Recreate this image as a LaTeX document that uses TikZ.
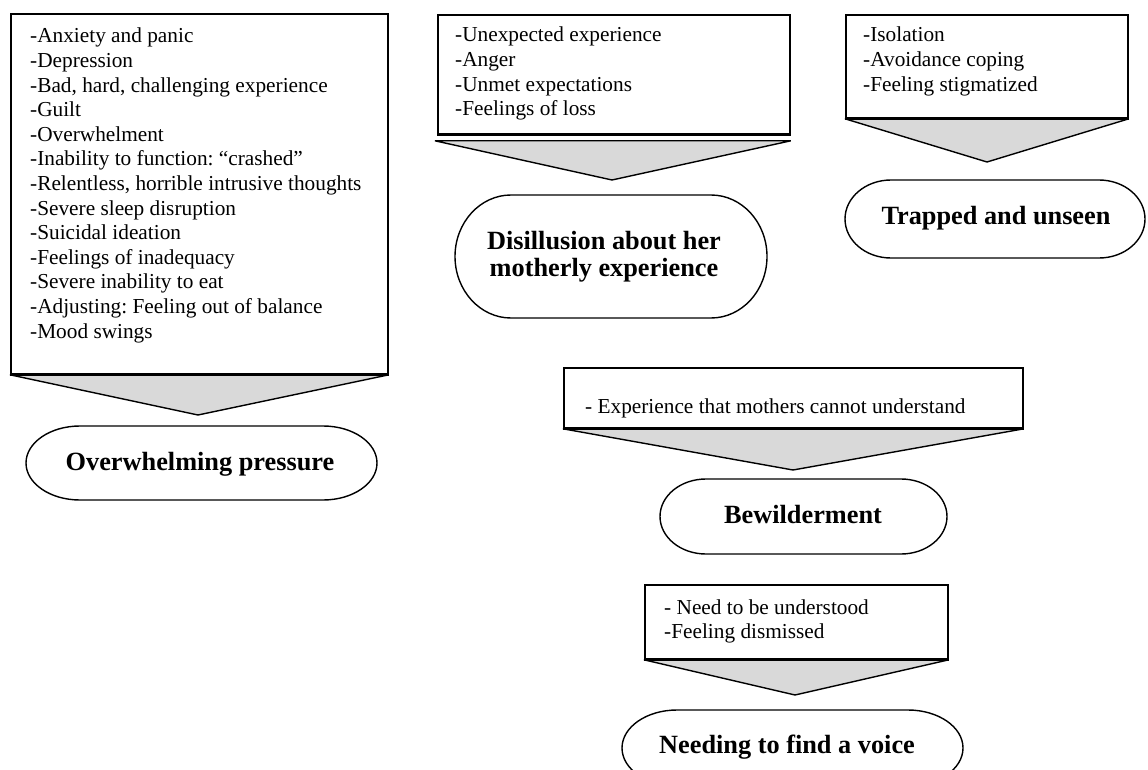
\documentclass[tikz,border=0pt]{standalone}
\usepackage{fontspec}
\setmainfont{Liberation Serif}
\usetikzlibrary{calc}
\frenchspacing

\definecolor{chevgray}{HTML}{D9D9D9}

\tikzset{
  listbox/.style={draw=black, line width=1.8pt, fill=white, inner sep=0pt, anchor=north west},
  chevron/.style={draw=black, line width=1.4pt, fill=chevgray, line join=bevel},
  termline/.style={draw=black, line width=1.4pt, fill=white},
  listtext/.style={anchor=base west, inner sep=0pt, align=left,
    font=\fontsize{21.3}{24.6}\selectfont},
  termtext/.style={anchor=base, inner sep=0pt, align=center,
    font=\fontsize{26.3}{27}\selectfont\bfseries},
}

% flowchart terminator outline: x1, y1 (top), x2, y2 (bottom), end radius x, end radius y
\newcommand\termshape[6]{%
  \path[termline] ({#1+#5},#2) -- ({#3-#5},#2)
    arc[start angle=90, end angle=-90, x radius=#5pt, y radius=#6pt]
    -- ({#1+#5},#4)
    arc[start angle=270, end angle=90, x radius=#5pt, y radius=#6pt]
    -- cycle;}

\newcommand\itemlist[1]{\begin{tabular}[t]{@{}l@{}}#1\end{tabular}}

\begin{document}
\begin{tikzpicture}[x=1pt, y=-1pt]
\useasboundingbox (0,0) rectangle (1148,770);

% ---------- boxes ----------
\node[listbox, minimum width=377pt, minimum height=360pt] (b1) at (10,13) {};
\node[listbox, minimum width=352pt, minimum height=119pt] (b2) at (437,14) {};
\node[listbox, minimum width=282pt, minimum height=103pt] (b3) at (845,14) {};
\node[listbox, minimum width=459pt, minimum height=60pt]  (b4) at (563,367) {};
\node[listbox, minimum width=303pt, minimum height=74pt]  (b5) at (644,584) {};

% ---------- chevron tips ----------
\coordinate (tip1) at (198,415);
\coordinate (tip2) at (612,180);
\coordinate (tip3) at (987,162);
\coordinate (tip4) at (793,470);
\coordinate (tip5) at (795,695);

% ---------- chevrons ----------
\path[chevron] (b1.south west) -- (b1.south east) -- (tip1) -- cycle;
\path[chevron] ([xshift=-2pt,yshift=-6pt]b2.south west) -- ([yshift=-6pt]b2.south east) -- (tip2) -- cycle;
\path[chevron] (b3.south west) -- (b3.south east) -- (tip3) -- cycle;
\path[chevron] (b4.south west) -- (b4.south east) -- (tip4) -- cycle;
\path[chevron] (b5.south west) -- (b5.south east) -- (tip5) -- cycle;

% redraw box borders above chevron edges
\foreach \b in {b1,b2,b3,b4,b5}{\draw[line width=1.8pt] (\b.south west) -- (\b.south east);}

% ---------- list texts ----------
\node[listtext] (l1) at (30,43) {\itemlist{%
  -Anxiety and panic\\
  -Depression\\
  -Bad, hard, challenging experience\\
  -Guilt\\
  -Overwhelment\\
  -Inability to function: “crashed”\\
  -Relentless, horrible intrusive thoughts\\
  -Severe sleep disruption\\
  -Suicidal ideation\\
  -Feelings of inadequacy\\
  -Severe inability to eat\\
  -Adjusting: Feeling out of balance\\
  -Mood swings}};

\node[listtext] (l2) at (455,42) {\itemlist{%
  -Unexpected experience\\
  -Anger\\
  -Unmet expectations\\
  -Feelings of loss}};

\node[listtext] (l3) at (863,42) {\itemlist{%
  -Isolation\\
  -Avoidance coping\\
  -Feeling stigmatized}};

\node[listtext] (l4) at (585,413) {- Experience that mothers cannot understand};

\node[listtext] (l5) at (664,614) {\itemlist{%
  - Need to be understood\\
  -Feeling dismissed}};

% ---------- terminators ----------
\termshape{26}{426}{377}{500}{54}{37}
\termshape{455}{195}{767}{318}{56}{61.5}
\termshape{845}{180}{1145}{258}{46}{39}
\termshape{660}{479}{947}{554}{46}{37.5}
\termshape{622}{710}{963}{786}{55}{38}

\node[termtext] (t1) at (200,470) {Overwhelming pressure};
\node[termtext, anchor=north] (t2) at (604,230) {\begin{tabular}[t]{@{}c@{}}Disillusion about her\\ motherly experience\end{tabular}};
\node[termtext] (t3) at (996,224) {Trapped and unseen};
\node[termtext] (t4) at (803,523) {Bewilderment};
\node[termtext] (t5) at (787,753) {Needing to find a voice};

\end{tikzpicture}
\end{document}
